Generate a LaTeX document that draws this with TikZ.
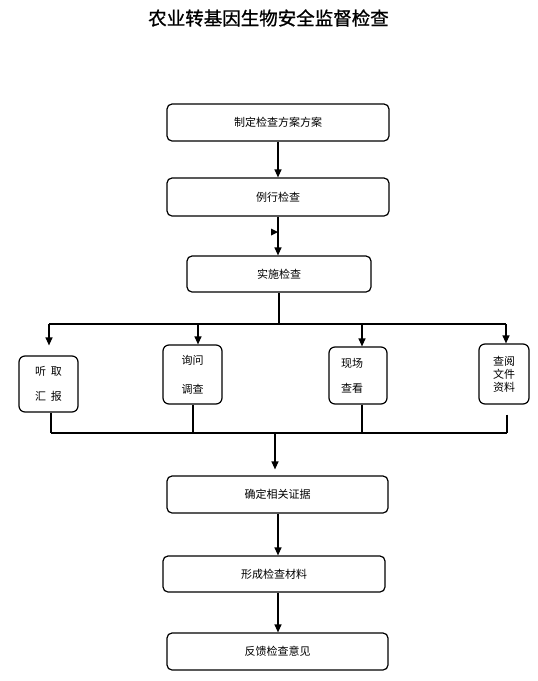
\documentclass[tikz,border=0pt]{standalone}
\usepackage{fontspec}
\setmainfont{Noto Sans CJK SC}
\newfontfamily\titrefont[FakeBold=1]{Noto Sans CJK SC}
\usetikzlibrary{arrows.meta}
\tikzset{
  boite/.style={draw,very thick,rounded corners=5pt,inner sep=2pt,font=\fontsize{11}{13}\selectfont},
  petite/.style={boite,rounded corners=6pt},
  >={Triangle[width=7pt,length=8pt]}
}

\begin{document}
\begin{tikzpicture}[x=1pt,y=-1pt]
		\useasboundingbox (0,0) rectangle (538,681);
		% Titre
		\node (titre) at (268.5,18) {\titrefont\fontsize{18.5}{22}\selectfont 农业转基因生物安全监督检查};
		% Cadres
		\node [boite,minimum width=222pt,minimum height=37pt] (plan) at (278,122.5) {制定检查方案方案};
		\node [boite,minimum width=222pt,minimum height=38pt] (routine) at (278,197) {例行检查};
		\node [boite,minimum width=184pt,minimum height=36pt] (mise) at (279,274) {实施检查};
		\node [petite,minimum width=59pt,minimum height=56pt,align=center] (ecoute) at (48.5,384) {听\hspace{5pt}取\\[12pt]汇\hspace{5pt}报};
		\node [petite,minimum width=59pt,minimum height=59pt,align=center] (enquete) at (192.5,374.5) {询问\\[16pt]调查};
		\node [petite,minimum width=58pt,minimum height=57pt,text width=34pt,align=left] (terrain) at (358,375.5) {现场\\[12pt]查看};
		\node [petite,minimum width=50pt,minimum height=60pt,align=center] (dossiers) at (504,374) {查阅\\文件\\资料};
		\node [boite,minimum width=221pt,minimum height=37pt] (preuves) at (277.5,494.5) {确定相关证据};
		\node [boite,minimum width=222pt,minimum height=36pt] (materiaux) at (274,574) {形成检查材料};
		\node [boite,minimum width=221pt,minimum height=37pt] (retour) at (277.5,651.5) {反馈检查意见};
		% Flèches
		\draw [->,very thick] (plan.south) -- (plan.south |- routine.north);
		\draw [->,very thick] (routine.south) -- (routine.south |- mise.north);
		\fill (271,228.5) -- (278,232) -- (271,235.5) -- cycle;
		\coordinate (f1) at (49,324);
		\coordinate (f2) at (198,324);
		\coordinate (f3) at (362,324);
		\coordinate (f4) at (506,324);
		\draw [very thick] (mise.south) -- (mise.south |- f1);
		\draw [very thick] (f1) -- (f4);
		\draw [->,very thick,shorten >=10pt] (f1) -- (f1 |- ecoute.north);
		\draw [->,very thick] (f2) -- (f2 |- enquete.north);
		\draw [->,very thick] (f3) -- (f3 |- terrain.north);
		\draw [->,very thick] (f4) -- (f4 |- dossiers.north);
		\coordinate (b1) at (51,433);
		\coordinate (b2) at (193,433);
		\coordinate (b3) at (362,433);
		\coordinate (b4) at (507,433);
		\coordinate (bas) at (275,433);
		\coordinate (axe) at (278,0);
		\draw [very thick] (b1 |- ecoute.south) -- (b1);
		\draw [very thick] (b2 |- enquete.south) -- (b2);
		\draw [very thick] (b3 |- terrain.south) -- (b3);
		\draw [very thick,shorten <=10pt] (b4 |- dossiers.south) -- (b4);
		\draw [very thick] (b1) -- (b4);
		\draw [->,very thick,shorten >=6pt] (bas) -- (bas |- preuves.north);
		\draw [->,very thick] (axe |- preuves.south) -- (axe |- materiaux.north);
		\draw [->,very thick] (axe |- materiaux.south) -- (axe |- retour.north);
\end{tikzpicture}
\end{document}
